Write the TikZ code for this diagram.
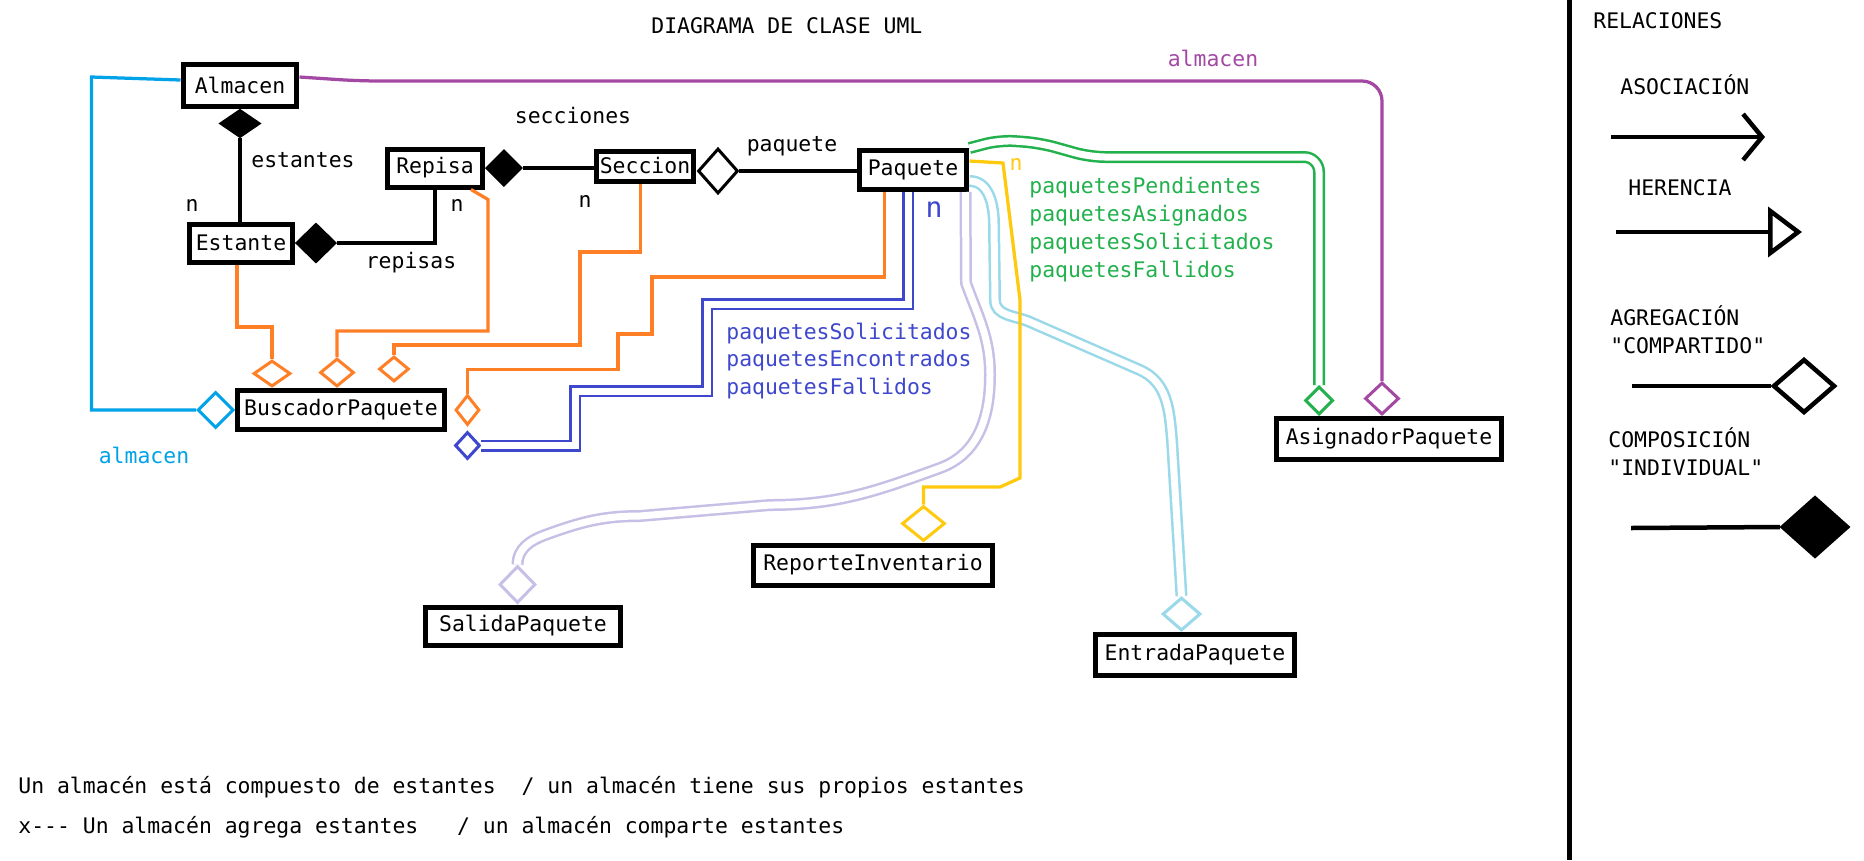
\documentclass[tikz,border=0pt]{standalone}
\usepackage{fontspec}
\setmonofont{DejaVu Sans Mono}
\usepackage{tikz}
\usetikzlibrary{arrows.meta,positioning,shapes.geometric}
\definecolor{Sky}{HTML}{00A2E8}
\definecolor{Plum}{HTML}{A349A4}
\definecolor{Leaf}{HTML}{22B14C}
\definecolor{Amber}{HTML}{FFC90E}
\definecolor{Indigo}{HTML}{3F48CC}
\definecolor{Tangerine}{HTML}{FF7F27}
\definecolor{Lilac}{HTML}{C8BFE7}
\definecolor{Aqua}{HTML}{99D9EA}

\begin{document}
\begin{tikzpicture}[x=0.02cm,y=-0.02cm,
    font=\ttfamily\fontsize{12.2}{15.9}\selectfont,
    cls/.style={draw,line width=0.1cm,inner sep=0pt,fill=white},
    comp/.style={diamond,draw,fill=black,line width=0.06cm,inner sep=0pt},
    agg/.style={diamond,draw=#1,fill=white,line width=0.06cm,inner sep=0pt},
    agg/.default=black,
    link/.style={line width=0.065cm},
    twin/.style={double=white,double distance=0.14cm,line width=0.05cm},
    lbl/.style={inner sep=0pt}]
  \fill[white] (0,0) rectangle (1864,860);
  \useasboundingbox (0,0) rectangle (1864,860);
  \node[lbl,anchor=base west] (title) at (651,33) {DIAGRAMA DE CLASE UML};

  % clases
  \node[cls,minimum width=2.28cm,minimum height=0.84cm] (alm) at (240,85) {Almacen};
  \node[cls,minimum width=2.06cm,minimum height=0.76cm] (est) at (241,243) {Estante};
  \node[cls,minimum width=1.90cm,minimum height=0.76cm] (rep) at (435,168) {Repisa};
  \node[cls,minimum width=1.96cm,minimum height=0.60cm] (sec) at (645,166) {Seccion};
  \node[cls,minimum width=2.16cm,minimum height=0.78cm] (paq) at (913,170) {Paquete};
  \node[cls,minimum width=4.14cm,minimum height=0.78cm] (bus) at (341,410) {BuscadorPaquete};
  \node[cls,minimum width=4.50cm,minimum height=0.82cm] (asig) at (1389,439) {AsignadorPaquete};
  \node[cls,minimum width=4.80cm,minimum height=0.80cm] (inv) at (873,565) {ReporteInventario};
  \node[cls,minimum width=3.92cm,minimum height=0.76cm] (sal) at (523,626) {SalidaPaquete};
  \node[cls,minimum width=4.00cm,minimum height=0.82cm] (ent) at (1195,655) {EntradaPaquete};

  % rombos
  \node[comp,below=0pt of alm,minimum width=0.78cm,minimum height=0.54cm] (dAlm) {};
  \node[comp,right=0pt of est,minimum width=0.78cm,minimum height=0.76cm] (dEst) {};
  \node[comp,right=0pt of rep,minimum width=0.70cm,minimum height=0.70cm] (dRep) {};
  \node[agg,right=0pt of sec,yshift=-0.1cm,minimum width=0.80cm,minimum height=0.90cm] (dSec) {};
  \node[agg=Sky,left=0pt of bus,minimum width=0.72cm,minimum height=0.72cm] (dBa) {};
  \node[agg=Tangerine,above=0pt of bus.north west,xshift=0.74cm,minimum width=0.74cm,minimum height=0.52cm] (dB1) {};
  \node[agg=Tangerine,above=0pt of bus.north west,xshift=2.04cm,minimum width=0.68cm,minimum height=0.56cm] (dB2) {};
  \node[agg=Tangerine,above=0.1cm of bus.north west,xshift=3.18cm,minimum width=0.60cm,minimum height=0.50cm] (dB3) {};
  \node[agg=Tangerine,right=0.14cm of bus,minimum width=0.48cm,minimum height=0.60cm] (dB4) {};
  \node[agg=Indigo,below=0.08cm of dB4,minimum width=0.50cm,minimum height=0.54cm] (dBb) {};
  \node[agg=Plum,above=0pt of asig,xshift=-0.14cm,minimum width=0.68cm,minimum height=0.64cm] (dAs) {};
  \node[agg=Leaf,above=0pt of asig,xshift=-1.40cm,minimum width=0.56cm,minimum height=0.56cm] (dAg) {};
  \node[agg=Amber,above=0pt of inv,xshift=1.01cm,minimum width=0.86cm,minimum height=0.70cm] (dInv) {};
  \node[agg=Lilac,above=0pt of sal,xshift=-0.11cm,minimum width=0.72cm,minimum height=0.74cm] (dSal) {};
  \node[agg=Aqua,above=0pt of ent,xshift=-0.27cm,minimum width=0.76cm,minimum height=0.66cm] (dEnt) {};

  % composicion y agregacion en negro
  \draw[link] (dAlm.south) -- (dAlm.south |- est.north);
  \draw[link] (dEst.east) -| (rep.south);
  \draw[link] (dRep.east) -- (dRep.east -| sec.west);
  \draw[link] (dSec.east) -- (dSec.east -| paq.west);
  \node[lbl] (lEst) at (303,160) {estantes};
  \node[lbl] (nEst) at (192,205) {n};
  \node[lbl] (lRep) at (411,263) {repisas};
  \node[lbl] (nRep) at (457,205) {n};
  \node[lbl] (lSec) at (573,116) {secciones};
  \node[lbl] (nSec) at (585,201) {n};
  \node[lbl] (lPaq) at (792,146) {paquete};

  % almacen
  \draw[link,Sky] ([yshift=0.1cm]alm.west) -- ++(-89,-3) |- (dBa.west);
  \node[lbl,text=Sky] (lAlmB) at (144,455) {almacen};
  \draw[link,Plum,rounded corners=0.4cm] ([yshift=0.16cm]alm.east) -- ++(60,4) -| (dAs.north);
  \node[lbl,text=Plum] (lAlmA) at (1213,58) {almacen};

  % buscador
  \draw[link,Tangerine] ([xshift=-0.08cm]est.south) |- ([yshift=0.64cm]dB1.north) -- (dB1.north);
  \draw[link,Tangerine] ([xshift=-0.28cm]rep.south east) -- ++(17,10) |- ([yshift=0.52cm]dB2.north) -- (dB2.north);
  \draw[link,Tangerine] ([xshift=-0.09cm]sec.south) |- (580,252) |- ([yshift=0.2cm]dB3.north) -- (dB3.north);
  \draw[link,Tangerine] ([xshift=0.56cm]paq.south west) |- (652,277) |- (618,334) |- ([yshift=0.48cm]dB4.north) -- (dB4.north);
  \draw[twin,Indigo] ([xshift=-0.1cm]paq.south) |- (707,304) |- (575,391) |- (dBb.east);
  \node[lbl,text=Indigo,font=\ttfamily\fontsize{16}{18}\selectfont] (nBus) at (934,210) {n};
  \node[lbl,text=Indigo,anchor=west,align=left] (lBus) at (726,361)
    {paquetesSolicitados\\paquetesEncontrados\\paquetesFallidos};

  % salida y entrada
  \draw[twin,Lilac] ([xshift=-0.08cm]paq.south east) -- (966,283) to[out=-70,in=90] (990,375)
    to[out=-90,in=20] (940,468) to[out=200,in=0] (770,505) -- (640,516)
    to[out=180,in=20] (545,535) to[out=200,in=90] (dSal.north);
  \draw[twin,Aqua] ([yshift=-0.22cm]paq.east) to[out=0,in=90] (994,225) -- (995,300)
    to[out=-90,in=156] (1030,322) -- (1140,370) to[out=-24,in=95] (1172,440) -- (dEnt.north);

  % asignador
  \draw[twin,Leaf,rounded corners=0.3cm] (paq.north east) -- (1000,140) -- (1040,143) -- (1090,157) -| (dAg.north);
  \node[lbl,text=Leaf,anchor=west,align=left] (lAsig) at (1029,230)
    {paquetesPendientes\\paquetesAsignados\\paquetesSolicitados\\paquetesFallidos};

  % reporte
  \draw[link,Amber] ([yshift=0.18cm]paq.east) -- (1003,163) -- (1020,300) -- (1020,478) -- (1000,487) -| (dInv.north);
  \node[lbl,text=Amber] (nInv) at (1016,164) {n};

  % relaciones
  \draw[line width=0.1cm] (1569,0) -- (1569,860);
  \node[lbl,anchor=base west] (rel) at (1593,28) {RELACIONES};
  \node[lbl,anchor=base west] (aso) at (1620,94) {ASOCIACIÓN};
  \coordinate (asoA) at (1611,137);
  \coordinate (asoB) at (1765,137);
  \draw[line width=0.09cm,-{Straight Barb[length=0.38cm,width=0.92cm]}] (asoA) -- (asoB);
  \node[lbl,anchor=base west] (her) at (1628,195) {HERENCIA};
  \coordinate (herA) at (1616,232);
  \coordinate (herB) at (1802,232);
  \draw[line width=0.09cm,-{Triangle[open,length=0.68cm,width=1.0cm]}] (herA) -- (herB);
  \node[lbl,anchor=base west] (agr) at (1610,325) {AGREGACIÓN};
  \node[lbl,anchor=base west] (agr2) at (1610,353) {"COMPARTIDO"};
  \node[agg,line width=0.09cm,minimum width=1.24cm,minimum height=1.08cm] (lgAgg) at (1804,386) {};
  \coordinate (agrA) at (1632,386);
  \draw[line width=0.09cm] (agrA) -- (lgAgg.west);
  \node[lbl,anchor=base west] (cmp) at (1608,447) {COMPOSICIÓN};
  \node[lbl,anchor=base west] (cmp2) at (1608,475) {"INDIVIDUAL"};
  \node[comp,line width=0.09cm,minimum width=1.32cm,minimum height=1.18cm] (lgComp) at (1815,527) {};
  \coordinate (cmpA) at (1631,528);
  \draw[line width=0.09cm] (cmpA) -- (lgComp.west);

  % notas
  \node[lbl,anchor=base west] (nota1) at (18,793) {Un almacén está compuesto de estantes\ \ / un almacén tiene sus propios estantes};
  \node[lbl,anchor=base west] (nota2) at (18,833) {x--- Un almacén agrega estantes\ \ \ / un almacén comparte estantes};
\end{tikzpicture}
\end{document}
